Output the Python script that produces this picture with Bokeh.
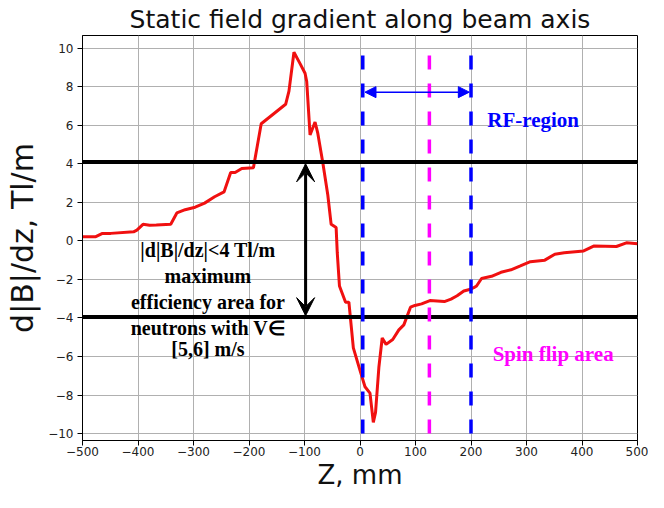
from bokeh.plotting import figure
from bokeh.models import Range1d, Arrow, VeeHead, NormalHead, FixedTicker
from bokeh.core.properties import value
from bokeh.embed import file_html
from bokeh.resources import INLINE

# ---- data ----
z_mm = [-500, -476, -464, -449, -408, -402, -391, -379, -367, -341, -330, -315, -297,
        -280, -262, -245, -233, -225, -213, -192, -178, -134, -128, -119, -108, -99,
        -96, -90, -81, -76, -67, -58, -52, -43, -41, -37, -26, -20, -12, 0, 9, 18, 24,
        28, 34, 40, 47, 59, 70, 79, 91, 99, 111, 126, 152, 164, 175, 187, 199, 205,
        210, 219, 237, 254, 272, 289, 307, 333, 351, 368, 403, 421, 462, 480, 500]
dbdz = [0.22, 0.22, 0.39, 0.39, 0.47, 0.56, 0.86, 0.81, 0.82, 0.86, 1.45, 1.62, 1.75,
        1.96, 2.29, 2.54, 3.55, 3.55, 3.76, 3.80, 6.08, 7.09, 7.77, 9.79, 9.20, 8.70,
        8.27, 5.50, 6.17, 5.58, 4.06, 2.38, 0.86, 0.69, -0.60, -2.34, -3.18, -3.18,
        -5.55, -6.72, -7.57, -7.90, -9.42, -8.90, -6.56, -5.04, -5.37, -5.12, -4.62,
        -4.36, -3.44, -3.35, -3.27, -3.10, -3.15, -3.02, -2.85, -2.60, -2.51, -2.43,
        -2.34, -1.95, -1.84, -1.63, -1.50, -1.30, -1.08, -1.00, -0.69, -0.62, -0.52,
        -0.27, -0.29, -0.10, -0.15]

limit_levels = [4.1, -3.95]          # horizontal black lines, Tl/m
rf_edges = [5, 200]                  # RF-region boundaries, mm
spin_flip_z = [125]                  # spin flip position, mm

x_ticks = list(range(-500, 501, 100))
y_ticks = list(range(-10, 11, 2))

note_lines = ["|d|B|/dz|<4 Tl/m", "maximum", "efficiency area for",
              "neutrons with V\u2208", "[5,6] m/s"]
note_x = [-274] * 5
note_y = [-0.49, -1.82, -3.19, -4.53, -5.61]

rf_label = ["RF-region"]
rf_label_x = [312]
rf_label_y = [6.25]
sf_label = ["Spin flip area"]
sf_label_x = [348]
sf_label_y = [-5.86]

title_text = "Static field gradient along beam axis"
x_label = "Z, mm"
y_label = "d|B|/dz, Tl/m"

# ---- figure ----
p = figure(width=648, height=492, output_backend="svg", toolbar_location=None,
           x_range=Range1d(-500, 500), y_range=Range1d(-10.36, 10.66),
           min_border_left=82, min_border_right=11, min_border_top=35,
           min_border_bottom=51, title=title_text)
p.title.text_font = "DejaVu Sans"
p.title.text_font_size = "25px"
p.title.text_font_style = "normal"
p.title.align = "center"
p.title.text_color = "#111111"
p.title.standoff = 4

p.outline_line_color = "black"
p.outline_line_width = 1
p.background_fill_color = "white"
p.border_fill_color = "white"

for ax in (p.xaxis[0], p.yaxis[0]):
    ax.axis_line_color = "black"
    ax.major_tick_line_color = "black"
    ax.minor_tick_line_color = None
    ax.major_tick_out = 5
    ax.major_tick_in = 0
    ax.major_label_text_font = "DejaVu Sans"
    ax.major_label_text_font_size = "12px"
    ax.major_label_text_color = "#222222"
    ax.axis_label_text_font = "DejaVu Sans"
    ax.axis_label_text_font_style = "normal"
    ax.axis_label_text_color = "#111111"

p.xaxis.axis_label = x_label
p.yaxis.axis_label = y_label
p.xaxis.axis_label_text_font_size = "26px"
p.yaxis.axis_label_text_font_size = "30px"
p.xaxis.ticker = FixedTicker(ticks=x_ticks)
p.yaxis.ticker = FixedTicker(ticks=y_ticks)
p.xaxis.major_label_standoff = 1
p.yaxis.major_label_standoff = 4
p.xaxis.axis_label_standoff = 1
p.yaxis.axis_label_standoff = 5

p.xgrid.ticker = FixedTicker(ticks=x_ticks)
p.ygrid.ticker = FixedTicker(ticks=y_ticks)
for g in (p.xgrid[0], p.ygrid[0]):
    g.grid_line_color = "#b0b0b0"
    g.grid_line_width = 1

# curve
p.line(z_mm, dbdz, line_color="#f01010", line_width=3)

# horizontal limits
p.segment(x0=[-500] * len(limit_levels), x1=[500] * len(limit_levels),
          y0=limit_levels, y1=limit_levels, line_color="black", line_width=4)

# vertical dashed lines
p.segment(x0=rf_edges, x1=rf_edges, y0=[-10] * len(rf_edges), y1=[10] * len(rf_edges),
          line_color="#0000ff", line_width=3.5, line_dash="14 14")
p.segment(x0=spin_flip_z, x1=spin_flip_z, y0=[-10], y1=[10],
          line_color="#ff00ff", line_width=3.5, line_dash="14 14")

# arrows
p.add_layout(Arrow(x_start=-98, y_start=4.0, x_end=-98, y_end=-3.88,
                   line_color="black", line_width=3,
                   start=VeeHead(size=18, line_color="black", fill_color="black"),
                   end=VeeHead(size=18, line_color="black", fill_color="black")))
p.add_layout(Arrow(x_start=9, y_start=7.72, x_end=197, y_end=7.72,
                   line_color="#0000ff", line_width=1.5,
                   start=NormalHead(size=11, line_color="#0000ff", fill_color="#0000ff"),
                   end=NormalHead(size=11, line_color="#0000ff", fill_color="#0000ff")))

# texts
p.text(x=note_x, y=note_y, text=note_lines, text_align="center", text_baseline="middle",
       text_font=value("Liberation Serif"), text_font_style="bold",
       text_font_size="20px", text_color="black")
p.text(x=rf_label_x, y=rf_label_y, text=rf_label, text_align="center",
       text_baseline="middle", text_font=value("Liberation Serif"),
       text_font_style="bold", text_font_size="21px", text_color="#0000ff")
p.text(x=sf_label_x, y=sf_label_y, text=sf_label, text_align="center",
       text_baseline="middle", text_font=value("Liberation Serif"),
       text_font_style="bold", text_font_size="21px", text_color="#ff00ff")

open("out.html", "w").write(file_html(p, INLINE))
